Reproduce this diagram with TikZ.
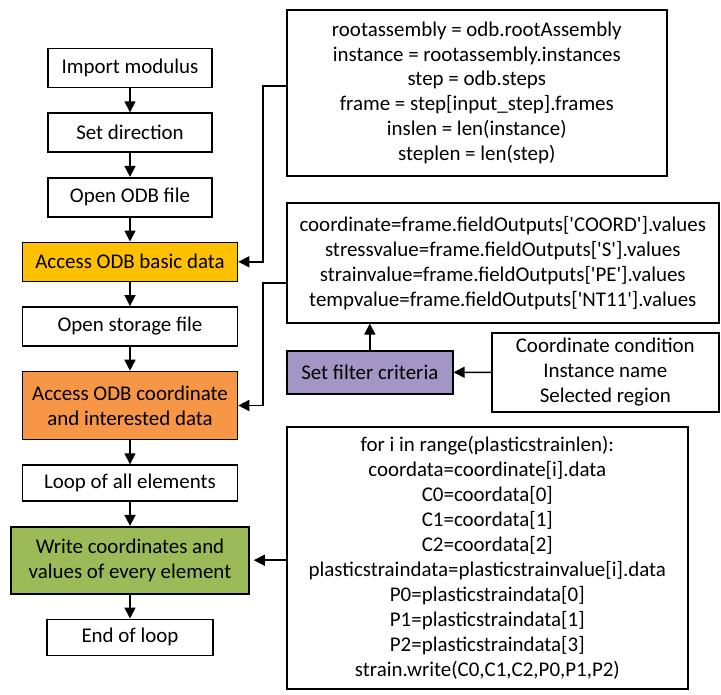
\documentclass[tikz,border=0pt]{standalone}
\usepackage{fontspec}
\setmainfont{Carlito}
\usetikzlibrary{positioning, arrows.meta}
\definecolor{basicorange}{HTML}{FFC000}
\definecolor{coordorange}{HTML}{F79646}
\definecolor{writegreen}{HTML}{9BBB59}
\definecolor{filterpurple}{HTML}{A396C4}

\begin{document}
\begin{tikzpicture}[
  x=1bp, y=-1bp,
  node distance=24bp,
  font=\fontsize{21}{25}\selectfont,
  flowbox/.style={rectangle, draw, line width=1.6bp, minimum height=39bp, align=center, inner sep=2bp},
  codebox/.style={rectangle, draw, line width=1.6bp, align=center, anchor=north west, inner sep=2bp},
  arrow/.style={-{Triangle[length=11bp, width=11bp]}, line width=1.6bp}
]
  \useasboundingbox (0,0) rectangle (721,695);

  % left column
  \node[flowbox, minimum width=164bp] (import) at (130,68) {Import modulus};
  \node[flowbox, minimum width=164bp, below=of import] (direction) {Set direction};
  \node[flowbox, minimum width=164bp, below=of direction] (openodb) {Open ODB file};
  \node[flowbox, minimum width=215bp, fill=basicorange, below=of openodb] (basic) {Access ODB basic data};
  \node[flowbox, minimum width=215bp, below=of basic] (storage) {Open storage file};
  \node[flowbox, minimum width=215bp, minimum height=68bp, fill=coordorange, below=of storage] (coordacc) {Access ODB coordinate\\and interested data};
  \node[flowbox, minimum width=215bp, minimum height=36bp, below=of coordacc] (loopall) {Loop of all elements};
  \node[flowbox, minimum width=238bp, minimum height=67bp, fill=writegreen, below=of loopall] (write) {Write coordinates and\\values of every element};
  \node[flowbox, minimum width=166bp, minimum height=36bp, below=of write] (endloop) {End of loop};

  % right column
  \node[codebox, minimum width=380bp, minimum height=166bp] (rootbox) at (286,9) {rootassembly = odb.rootAssembly\\instance = rootassembly.instances\\step = odb.steps\\frame = step[input\_step].frames\\inslen = len(instance)\\steplen = len(step)};
  \node[codebox, minimum width=432bp, minimum height=120bp] (fieldbox) at (286,202) {coordinate=frame.fieldOutputs[\textquotesingle COORD\textquotesingle].values\\stressvalue=frame.fieldOutputs[\textquotesingle S\textquotesingle].values\\strainvalue=frame.fieldOutputs[\textquotesingle PE\textquotesingle].values\\tempvalue=frame.fieldOutputs[\textquotesingle NT11\textquotesingle].values};
  \node[codebox, minimum width=166bp, minimum height=43bp, fill=filterpurple] (filter) at (286,350) {Set filter criteria};
  \node[codebox, minimum width=227bp, minimum height=79bp] (condbox) at (491,332) {Coordinate condition\\Instance name\\Selected region};
  \node[codebox, minimum width=401bp, minimum height=262bp] (loopcode) at (286,426) {for i in range(plasticstrainlen):\\coordata=coordinate[i].data\\C0=coordata[0]\\C1=coordata[1]\\C2=coordata[2]\\plasticstraindata=plasticstrainvalue[i].data\\P0=plasticstraindata[0]\\P1=plasticstraindata[1]\\P2=plasticstraindata[3]\\strain.write(C0,C1,C2,P0,P1,P2)};

  % flow
  \draw[arrow] (import) -- (direction);
  \draw[arrow] (direction) -- (openodb);
  \draw[arrow] (openodb) -- (basic);
  \draw[arrow] (basic) -- (storage);
  \draw[arrow] (storage) -- (coordacc);
  \draw[arrow] (coordacc) -- (loopall);
  \draw[arrow] (loopall) -- (write);
  \draw[arrow] (write) -- (endloop);

  % feeds from the code boxes
  \draw[arrow] ([yshift=7bp]rootbox.west) -- ++(-23,0) |- (basic.east);
  \draw[arrow] ([yshift=-20bp]fieldbox.west) -- ++(-23,0) |- (coordacc.east);
  \draw[arrow] (filter.north) -- (fieldbox.south -| filter.north);
  \draw[arrow] (condbox.west) -- (filter.east);
  \draw[arrow, shorten >=4bp] (loopcode.west |- write.east) -- (write.east);
\end{tikzpicture}
\end{document}
